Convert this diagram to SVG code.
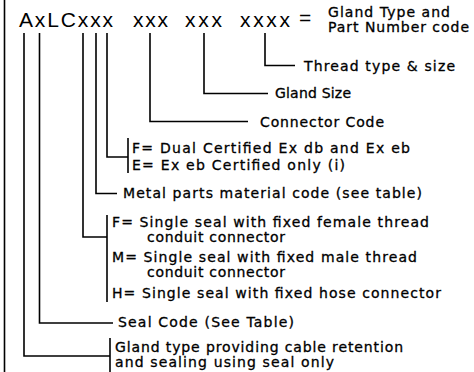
<svg xmlns="http://www.w3.org/2000/svg" width="474" height="372" viewBox="0 0 474 372">
<style>
.code{font-family:"Liberation Sans",Arial,sans-serif;font-size:21px;fill:#000}
.lbl{font-family:"DejaVu Sans","Liberation Sans",sans-serif;font-size:14px;fill:#000;stroke:#000;stroke-width:0.3}
.ln{fill:none;stroke:#000;stroke-width:1.6}
</style>
<rect width="474" height="372" fill="#fff"/>
<g id="frame"><line class="ln" x1="4.5" y1="0" x2="4.5" y2="372"/></g>
<g id="code">
<text class="code" x="19" y="27" textLength="94">AxLCxxx</text>
<text class="code" x="133" y="27" textLength="35">xxx</text>
<text class="code" x="185" y="27" textLength="37">xxx</text>
<text class="code" x="240" y="27" textLength="50">xxxx</text>
<text class="code" x="299" y="25">=</text>
</g>
<g id="title">
<text class="lbl" x="328" y="17" textLength="122">Gland Type and</text>
<text class="lbl" x="328" y="32" textLength="141">Part Number code</text>
</g>
<g id="thread"><text class="lbl" x="304" y="71" textLength="151">Thread type &amp; size</text></g>
<g id="glandsize"><text class="lbl" x="275" y="98" textLength="76">Gland Size</text></g>
<g id="connector"><text class="lbl" x="260" y="127" textLength="124">Connector Code</text></g>
<g id="cert">
<text class="lbl" x="132" y="153" textLength="278">F= Dual Certified Ex db and Ex eb</text>
<text class="lbl" x="132" y="170" textLength="213">E= Ex eb Certified only (i)</text>
</g>
<g id="metal"><text class="lbl" x="123" y="198" textLength="299">Metal parts material code (see table)</text></g>
<g id="sealtype">
<text class="lbl" x="112" y="227" textLength="317">F= Single seal with fixed female thread</text>
<text class="lbl" x="147" y="242" textLength="138">conduit connector</text>
<text class="lbl" x="112" y="262" textLength="305">M= Single seal with fixed male thread</text>
<text class="lbl" x="147" y="277" textLength="138">conduit connector</text>
<text class="lbl" x="112" y="298" textLength="329">H= Single seal with fixed hose connector</text>
</g>
<g id="sealcode"><text class="lbl" x="118" y="327" textLength="176">Seal Code (See Table)</text></g>
<g id="glandtype">
<text class="lbl" x="115" y="352" textLength="288">Gland type providing cable retention</text>
<text class="lbl" x="115" y="367" textLength="219">and sealing using seal only</text>
</g>
<g id="connectors">
<polyline class="ln" points="24,33 24,356 110,356"/>
<polyline class="ln" points="39.5,33 39.5,323 113,323"/>
<polyline class="ln" points="83,33 83,237 107,237"/>
<polyline class="ln" points="96,33 96,193.5 117,193.5"/>
<polyline class="ln" points="107,33 107,157 128,157"/>
<polyline class="ln" points="150,33 150,121.5 248,121.5"/>
<polyline class="ln" points="204,33 204,93.5 268,93.5"/>
<polyline class="ln" points="265,33 265,65.5 295,65.5"/>
<line class="ln" x1="128" y1="138" x2="128" y2="173"/>
<line class="ln" x1="107" y1="215" x2="107" y2="302"/>
<line class="ln" x1="110" y1="338" x2="110" y2="372"/>
</g>
</svg>
